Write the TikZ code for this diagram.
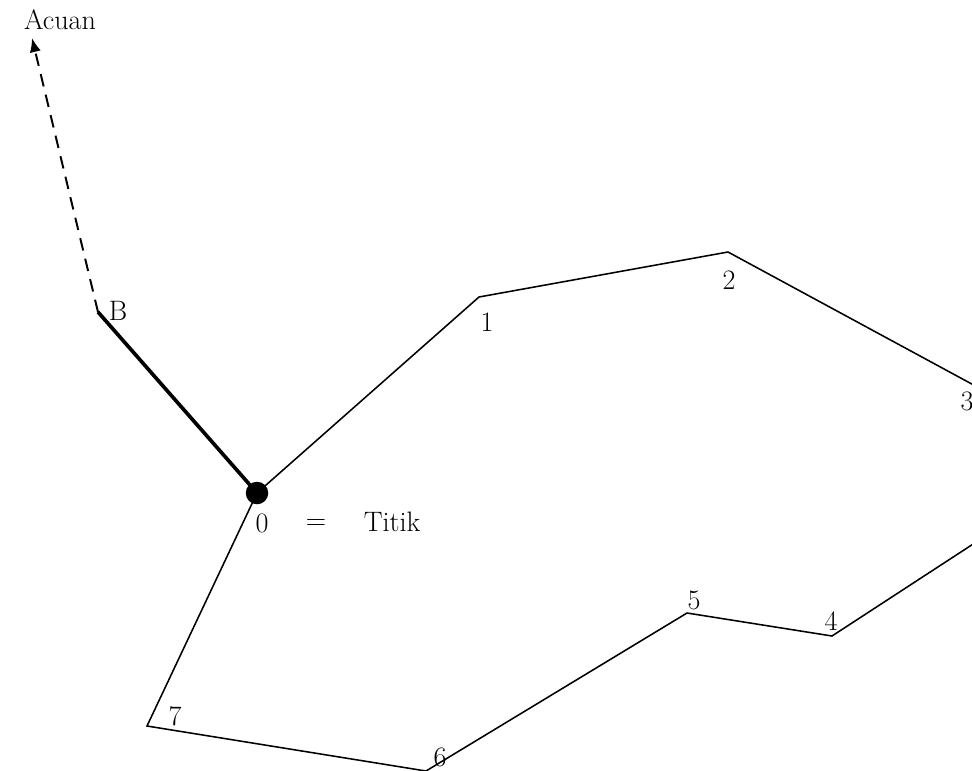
\documentclass[tikz,border=0pt]{standalone}
\usepackage{tikz}
\usetikzlibrary{arrows.meta,positioning,calc}

\begin{document}
\begin{tikzpicture}[x=0.025cm, y=-0.025cm,
      every node/.style={font=\fontsize{20}{24}\selectfont, inner sep=1pt},
      leg/.style={line width=1.1pt},
      base/.style={line width=2.6pt},
      ref/.style={line width=1.4pt, dash pattern=on 9pt off 6pt,
        -{Latex[length=10pt, width=8pt]}}]
      \clip (0,0) rectangle (972,770);

      % traverse points
      \coordinate (p0) at (257,493);
      \coordinate (pB) at (98,312);
      \coordinate (pA) at (32,38);
      \coordinate (p1) at (479,297);
      \coordinate (p2) at (728,252);
      \coordinate (p3) at (1005,402);
      \coordinate (p3b) at (1010,520);
      \coordinate (p4) at (832,636);
      \coordinate (p5) at (687,613);
      \coordinate (p6) at (426,771);
      \coordinate (p7) at (147,726);

      \draw[leg] (p0) -- (p1) -- (p2) -- (p3) -- (p3b) -- (p4) -- (p5)
      -- (p6) -- (p7) -- cycle;
      \draw[base] (p0) -- (pB);
      \draw[ref] (pB) -- (pA);
      \fill (p0) circle (8pt);

      \node (acuan) at (60,20) {Acuan};
      \node (lB) at (118,311) {B};
      \node (l0) at (262,523) {0};
      \node (eq) at (316,524) {=};
      \node (titik) at (392,522) {Titik};
      \foreach \n/\x/\y in {1/487/322, 2/729/280, 3/967/401, 4/831/621,
        5/694/600, 6/440/757, 7/175/716} {
        \node (l\n) at (\x,\y) {\n};
      };
    \end{tikzpicture}
\end{document}
